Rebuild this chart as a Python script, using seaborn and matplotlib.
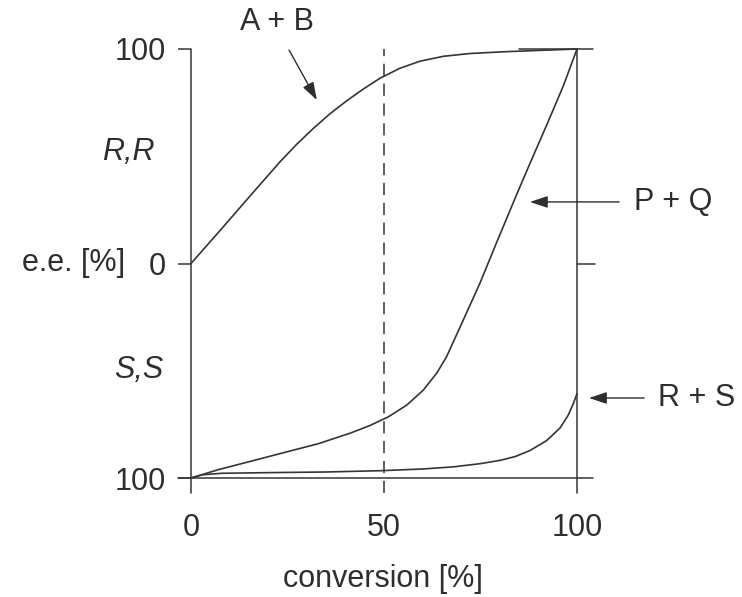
import pandas as pd
import numpy as np
import matplotlib
matplotlib.use("Agg")
import matplotlib.pyplot as plt
import seaborn as sns

# values (conversion %, e.e. %; negative = S,S side)
conv_ab = [0, 7.1, 15.7, 23.1, 27.4, 31.7, 36.0, 40.3, 44.6, 49.0, 54.1, 59.3, 65.4, 72.3, 80.8, 89.6, 100]
ee_ab = [0, 14.5, 32.3, 47.5, 55.6, 63.0, 69.8, 75.8, 81.3, 86.4, 91.0, 94.3, 96.6, 97.9, 98.7, 99.3, 100]

conv_pq = [0, 7.1, 15.7, 24.4, 33.0, 41.4, 46.4, 51.1, 55.9, 60.2, 63.7, 66.2, 70.5, 74.9,
           79.2, 84.4, 88.5, 92.5, 96.5, 100]
ee_pq = [-100, -96.1, -92.1, -88.0, -84.0, -79.0, -75.5, -71.5, -66.0, -59.0, -51.0, -43.5, -26.5, -9.0,
         9.9, 32.3, 49.5, 66, 83, 100]

conv_rs = [0, 3, 8, 20, 35, 49, 60, 68, 75, 80, 84, 87.8, 92.1, 95.6, 97.7, 99.0, 100]
ee_rs = [-100, -98.5, -97.8, -97.5, -97.2, -96.6, -95.8, -94.8, -93.3, -91.8, -90, -87.2, -82.6,
         -76.7, -70.8, -65.5, -60.7]

labels = ["A + B", "P + Q", "R + S"]

df = pd.concat([
    pd.DataFrame({"conversion": conv_ab, "ee": ee_ab, "pair": labels[0]}),
    pd.DataFrame({"conversion": conv_pq, "ee": ee_pq, "pair": labels[1]}),
    pd.DataFrame({"conversion": conv_rs, "ee": ee_rs, "pair": labels[2]}),
])

sns.set_theme(style="white")
plt.rcParams["font.family"] = ["Liberation Sans", "DejaVu Sans"]
ink = "#2e2e2e"
line_c = "#353535"
fs = 22

fig = plt.figure(figsize=(7.42, 5.97), dpi=100)
ax = fig.add_axes([191 / 742, 1 - 478 / 597, 386 / 742, 429 / 597])

sns.lineplot(data=df, x="conversion", y="ee", hue="pair", sort=True,
             palette=[line_c] * 3, legend=False, linewidth=1.2, ax=ax, clip_on=False)

ax.set_xlim(0, 100)
ax.set_ylim(-100, 100)
for s in ax.spines.values():
    s.set_visible(False)

# frame drawn by hand, it runs past the plot area
ext = -107
ax.plot([0, 0], [ext, 100], color=line_c, lw=1.1, clip_on=False)
ax.plot([100, 100], [ext, 100], color=line_c, lw=1.1, clip_on=False)
ax.plot([-3.4, 104.1], [-100, -100], color=line_c, lw=1.1, clip_on=False)
ax.plot([85, 104.1], [100, 100], color=line_c, lw=1.1, clip_on=False)
ax.plot([100, 104.6], [0, 0], color=line_c, lw=1.1, clip_on=False)
ax.plot([50, 50], [ext, 100], color=line_c, lw=1.1, ls=(0, (8, 5)), clip_on=False)

ax.set_yticks([-100, 0, 100])
ax.set_yticklabels(["100", "0", "100"])
ax.set_xticks([0, 50, 100])
ax.set_xticklabels(["0", "50", "100"])
ax.tick_params(axis="y", direction="out", length=9.4, width=1.1, color=line_c,
               pad=9, labelsize=fs, labelcolor=ink, left=True)
ax.tick_params(axis="x", length=0, pad=25, labelsize=fs, labelcolor=ink)

ax.set_xlabel("conversion [%]", fontsize=fs, color=ink)
ax.xaxis.set_label_coords(0.497, -0.2)
ax.xaxis.label.set_va("top")
ax.set_ylabel("e.e. [%]", fontsize=fs, color=ink, rotation=0, ha="center", va="center")
ax.yaxis.set_label_coords(-0.303, 0.5)

ax.text(-0.163, 52, "R,R", transform=ax.get_yaxis_transform(), fontsize=fs,
        style="italic", color=ink, ha="center", va="center")
ax.text(-0.135, -49.6, "S,S", transform=ax.get_yaxis_transform(), fontsize=fs,
        style="italic", color=ink, ha="center", va="center")

arrow = dict(arrowstyle="-|>,head_length=0.9,head_width=0.3", color=ink, lw=1.0, shrinkA=0, shrinkB=0)
ax.text(22.3, 112.6, "A + B", fontsize=fs, color=ink, ha="center", va="center", clip_on=False)
ax.annotate("", xy=(32.6, 76.2), xytext=(25.4, 99.5), arrowprops=arrow, annotation_clip=False)
ax.annotate("", xy=(87.8, 28.7), xytext=(110.9, 28.7), arrowprops=arrow, annotation_clip=False)
ax.text(114.8, 28.7, "P + Q", fontsize=fs, color=ink, ha="left", va="center", clip_on=False)
ax.annotate("", xy=(103.1, -62.7), xytext=(117.4, -62.7), arrowprops=arrow, annotation_clip=False)
ax.text(121, -62.7, "R + S", fontsize=fs, color=ink, ha="left", va="center", clip_on=False)

fig.savefig("out.png", dpi=100)
